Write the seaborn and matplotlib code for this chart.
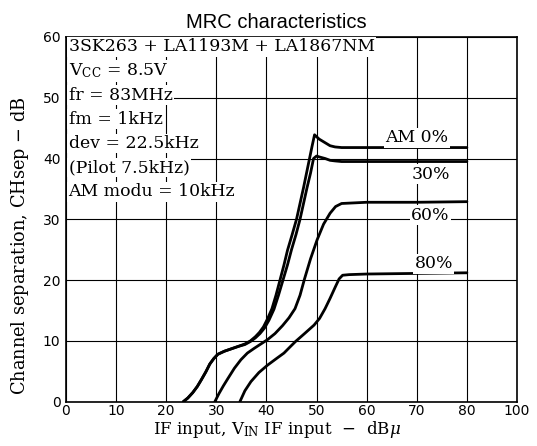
import matplotlib
matplotlib.use("Agg")
import matplotlib.pyplot as plt
import pandas as pd
import seaborn as sns

# Curve data (IF input dBu vs channel separation dB)
am0_x = [23.4, 24.3, 25.3, 26.2, 27.0, 27.9, 28.7, 29.5, 30.3, 31.6, 33.0, 34.4, 35.7, 36.8,
         37.8, 38.6, 39.4, 40.2, 41.1, 41.9, 42.7, 43.5, 44.2, 45.1, 46.0, 46.7, 47.4, 48.0,
         48.6, 49.1, 49.6, 50.5, 51.7, 52.7, 53.7, 55.0, 60.0, 70.0, 80.0]
am0_y = [0.0, 0.6, 1.5, 2.5, 3.6, 4.9, 6.2, 7.1, 7.8, 8.3, 8.7, 9.1, 9.5, 10.0,
         10.7, 11.4, 12.3, 13.6, 15.3, 17.5, 20.0, 22.5, 24.9, 27.4, 30.0, 32.6, 35.2, 37.6,
         40.0, 42.0, 43.9, 43.2, 42.6, 42.1, 41.9, 41.8, 41.8, 41.8, 41.8]

am30_x = [23.4, 24.3, 25.3, 26.2, 27.0, 27.9, 28.7, 29.5, 30.3, 31.6, 33.0, 34.4, 35.7, 36.8,
          37.8, 38.7, 39.6, 40.5, 41.5, 42.4, 43.3, 44.2, 45.0, 45.9, 46.7, 47.4, 48.1, 48.8,
          49.4, 50.0, 50.8, 51.7, 52.7, 53.7, 55.0, 60.0, 70.0, 80.0]
am30_y = [0.0, 0.6, 1.5, 2.5, 3.6, 4.9, 6.2, 7.1, 7.8, 8.3, 8.7, 9.1, 9.4, 9.9,
          10.5, 11.2, 12.1, 13.4, 15.2, 17.5, 20.0, 22.5, 25.0, 27.5, 30.0, 32.6, 35.2, 37.6,
          40.0, 40.4, 40.2, 40.0, 39.7, 39.6, 39.5, 39.5, 39.5, 39.5]

am60_x = [29.7, 30.5, 31.4, 32.3, 33.6, 34.9, 36.2, 37.6, 38.9, 40.2, 41.7, 43.2, 44.5, 45.7,
          46.7, 47.6, 48.8, 50.1, 51.4, 52.7, 53.8, 55.0, 60.0, 70.0, 80.0]
am60_y = [0.0, 1.3, 2.6, 3.8, 5.5, 6.9, 8.0, 8.8, 9.5, 10.2, 11.2, 12.5, 13.8, 15.3,
          17.5, 20.2, 23.5, 26.6, 29.2, 31.0, 32.1, 32.6, 32.8, 32.8, 32.9]

am80_x = [34.7, 35.7, 36.9, 38.5, 40.2, 42.0, 43.5, 44.7, 45.8, 47.6, 49.5, 50.6, 51.7, 52.7,
          53.7, 54.5, 55.2, 56.5, 60.0, 70.0, 80.0]
am80_y = [0.0, 1.8, 3.3, 4.8, 6.0, 7.1, 8.0, 9.0, 9.9, 11.2, 12.6, 13.7, 15.3, 17.0,
          18.8, 20.2, 20.8, 20.9, 21.0, 21.1, 21.2]

curve_names = ["AM 0%", "30%", "60%", "80%"]
label_x = [70.0, 72.8, 72.7, 73.4]
label_y = [43.4, 37.4, 30.7, 22.7]

x_ticks = [0, 10, 20, 30, 40, 50, 60, 70, 80, 90]
x_tick_labels = ["0", "10", "20", "30", "40", "50", "60", "70", "80", "100"]
y_ticks = [0, 10, 20, 30, 40, 50, 60]

info_lines = ["3SK263 + LA1193M + LA1867NM", r"V$_{\rm CC}$ = 8.5V", "fr = 83MHz",
              "fm = 1kHz", "dev = 22.5kHz", "(Pilot 7.5kHz)", "AM modu = 10kHz"]

df = pd.concat([
    pd.DataFrame({"x": am0_x, "y": am0_y, "curve": "0"}),
    pd.DataFrame({"x": am30_x, "y": am30_y, "curve": "30"}),
    pd.DataFrame({"x": am60_x, "y": am60_y, "curve": "60"}),
    pd.DataFrame({"x": am80_x, "y": am80_y, "curve": "80"}),
])

sns.set_style("white")
plt.rcParams["font.family"] = ["DejaVu Sans"]
plt.rcParams["text.color"] = "black"

fig = plt.figure(figsize=(5.37, 4.46), dpi=100)
ax = fig.add_axes([66 / 537, 1 - 401.7 / 446, 451 / 537, 364.8 / 446])

sns.lineplot(data=df, x="x", y="y", hue="curve", palette=["black"] * 4, sort=False,
             estimator=None, linewidth=2.0, legend=False, ax=ax)

ax.set_xlim(0, 90)
ax.set_ylim(0, 60)
ax.set_xticks(x_ticks)
ax.set_xticklabels(x_tick_labels)
ax.set_yticks(y_ticks)
ax.tick_params(length=0, labelsize=10, colors="black")
ax.tick_params(axis="x", pad=2)
ax.tick_params(axis="y", pad=4)
ax.grid(True, color="black", linewidth=0.8)
for s in ax.spines.values():
    s.set_color("black")
    s.set_linewidth(1.2)
ax.set_xlabel("")
ax.set_ylabel("")

box = dict(facecolor="white", edgecolor="none", pad=1.0)
for i, line in enumerate(info_lines):
    ax.text(0.5, 58.4 - 3.98 * i, line, ha="left", va="center", fontsize=12.4,
            family="DejaVu Serif", math_fontfamily="dejavuserif", bbox=box, zorder=4)

for name, lx, ly in zip(curve_names, label_x, label_y):
    ax.text(lx, ly, name, ha="center", va="center", fontsize=12.4, family="DejaVu Serif",
            bbox=box, zorder=4)

fig.text(276 / 537, 1 - 22 / 446, "MRC characteristics", ha="center", va="center",
         fontsize=14.5, family="Liberation Sans")
fig.text(277 / 537, 1 - 430 / 446, r"IF input, V$_{\rm IN}$ IF input  $-$  dB$\mu$",
         ha="center", va="center", fontsize=12, family="DejaVu Serif",
         math_fontfamily="dejavuserif")
fig.text(20 / 537, 1 - 246 / 446, "Channel separation, CHsep $-$ dB", ha="center",
         va="center", rotation=90, fontsize=12.8, family="DejaVu Serif",
         math_fontfamily="dejavuserif")

fig.savefig("out.png", dpi=100)
